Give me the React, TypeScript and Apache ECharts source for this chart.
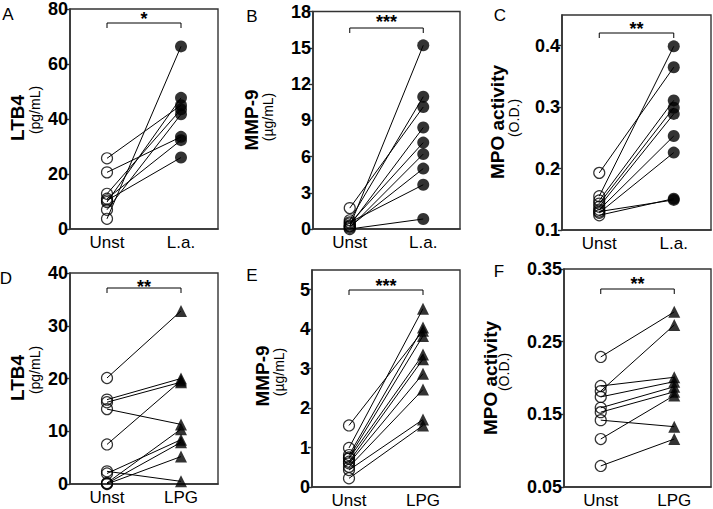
import React, { useEffect, useRef } from "react";
import * as echarts from "echarts";

// ---------- data ----------
const catsTop = ["Unst", "L.a."];
const catsBottom = ["Unst", "LPG"];

// Panel A: LTB4 (pg/mL), Unst vs L.a.
const unstA = [25.7, 20.6, 12.8, 10.4, 9.8, 7.0, 3.7, 11.0];
const laA = [45.0, 33.5, 43.5, 26.0, 47.7, 41.7, 66.4, 32.3];
// Panel B: MMP-9 (ug/mL)
const unstB = [1.73, 0.72, 0.22, 0.0, 0.3, 0.45, 0.1, 0.2, 0.55];
const laB = [10.1, 10.95, 15.2, 0.83, 8.4, 7.15, 6.2, 5.0, 3.66];
// Panel C: MPO activity (O.D.)
const unstC = [0.193, 0.155, 0.148, 0.143, 0.138, 0.133, 0.128, 0.124, 0.13];
const laC = [0.365, 0.399, 0.311, 0.299, 0.289, 0.253, 0.226, 0.151, 0.149];
// Panel D: LTB4, Unst vs LPG
const unstD = [20.1, 16.0, 15.5, 14.2, 7.5, 2.4, 2.0, 0.2, 0.0, 0.1];
const lpgD = [32.8, 20.0, 19.3, 11.3, 19.6, 0.5, 8.4, 10.4, 5.2, 7.9];
// Panel E: MMP-9, Unst vs LPG
const unstE = [1.56, 0.99, 0.81, 0.75, 0.72, 0.64, 0.6, 0.51, 0.43, 0.22];
const lpgE = [3.96, 4.52, 4.04, 3.83, 3.36, 3.24, 2.87, 2.47, 1.71, 1.56];
// Panel F: MPO activity, Unst vs LPG
const unstF = [0.229, 0.189, 0.182, 0.174, 0.159, 0.153, 0.142, 0.116, 0.079];
const lpgF = [0.291, 0.201, 0.273, 0.195, 0.188, 0.181, 0.133, 0.176, 0.116];

// axis ranges: [min, max, interval]
const axisA = [0, 80, 20];
const axisB = [0, 18, 3];
const axisC = [0.1, 0.45, 0.1];
const axisD = [0, 40, 10];
const axisE = [0, 5.5, 1];
const axisF = [0.05, 0.35, 0.1];

const FONT = "Liberation Sans, Arial, Helvetica, sans-serif";

const panels = [
  { letter: "A", title: "LTB4", unit: "(pg/mL)", cats: catsTop, unst: unstA, treat: laA, sym: "circle", axis: axisA, dec: 0, stars: "*", showMax: true,
    grid: { left: 70, top: 7, width: 148, height: 222 }, titlePos: [17, 118], unitPos: [35, 110], letterPos: [8, 14], bracketY: 23, starY: 15 },
  { letter: "B", title: "MMP-9", unit: "(\u00b5g/mL)", cats: catsTop, unst: unstB, treat: laB, sym: "circle", axis: axisB, dec: 0, stars: "***", showMax: true,
    grid: { left: 313, top: 11.5, width: 147, height: 217.5 }, titlePos: [251, 120], unitPos: [268, 117], letterPos: [252, 16], bracketY: 28, starY: 18 },
  { letter: "C", title: "MPO activity", unit: "(O.D.)", cats: catsTop, unst: unstC, treat: laC, sym: "circle", axis: axisC, dec: 1, stars: "**", showMax: false,
    grid: { left: 562, top: 15, width: 149, height: 215 }, titlePos: [497, 122], unitPos: [514, 118], letterPos: [500, 15], bracketY: 33, starY: 25 },
  { letter: "D", title: "LTB4", unit: "(pg/mL)", cats: catsBottom, unst: unstD, treat: lpgD, sym: "triangle", axis: axisD, dec: 0, stars: "**", showMax: true,
    grid: { left: 70, top: 273, width: 148, height: 211 }, titlePos: [17, 378], unitPos: [35, 370], letterPos: [6, 278], bracketY: 288, starY: 283 },
  { letter: "E", title: "MMP-9", unit: "(\u00b5g/mL)", cats: catsBottom, unst: unstE, treat: lpgE, sym: "triangle", axis: axisE, dec: 0, stars: "***", showMax: false,
    grid: { left: 312, top: 270, width: 148, height: 219 }, titlePos: [262, 376], unitPos: [279, 372], letterPos: [252, 275], bracketY: 290, starY: 282 },
  { letter: "F", title: "MPO activity", unit: "(O.D.)", cats: catsBottom, unst: unstF, treat: lpgF, sym: "triangle", axis: axisF, dec: 2, stars: "**", showMax: true,
    grid: { left: 564, top: 269, width: 147, height: 220 }, titlePos: [490, 378], unitPos: [504, 372], letterPos: [499, 271], bracketY: 289, starY: 280 },
];

export default function App() {
  const ref = useRef<HTMLDivElement>(null);
  useEffect(() => {
    if (!ref.current) return;
    const chart = echarts.init(ref.current, undefined, { renderer: "svg" });
    const grids: any[] = [];
    const xAxes: any[] = [];
    const yAxes: any[] = [];
    const series: any[] = [];
    panels.forEach((p, i) => {
      grids.push({ ...p.grid, show: true, borderColor: "#333", borderWidth: 1.4, backgroundColor: "transparent", containLabel: false });
      xAxes.push({
        type: "category", gridIndex: i, data: p.cats, boundaryGap: true,
        axisLine: { show: true, lineStyle: { color: "#333", width: 1.6 } },
        axisTick: { show: false },
        axisLabel: { color: "#000", fontSize: 17, fontFamily: FONT, margin: 5 },
        splitLine: { show: false },
      });
      yAxes.push({
        type: "value", gridIndex: i, min: p.axis[0], max: p.axis[1], interval: p.axis[2],
        axisLine: { show: true, lineStyle: { color: "#333", width: 1.6 } },
        axisTick: { show: true, length: 4, lineStyle: { color: "#333", width: 1.4 } },
        axisLabel: {
          color: "#000", fontSize: 18, fontWeight: "bold", fontFamily: FONT, margin: 2,
          showMaxLabel: p.showMax,
          formatter: (v: number) => v.toFixed(p.dec),
        },
        splitLine: { show: false },
      });
      p.unst.forEach((u, k) => {
        series.push({
          type: "line", xAxisIndex: i, yAxisIndex: i, data: [u, p.treat[k]],
          symbol: "none", lineStyle: { color: "#000", width: 1 }, silent: true, z: 2,
        });
      });
      series.push({
        type: "scatter", xAxisIndex: i, yAxisIndex: i, data: p.unst.map((v) => [0, v]),
        symbol: "circle", symbolSize: 11,
        itemStyle: { color: "rgba(0,0,0,0)", borderColor: "#000", borderWidth: 1.2 }, z: 3,
      });
      series.push({
        type: "scatter", xAxisIndex: i, yAxisIndex: i, data: p.treat.map((v) => [1, v]),
        symbol: p.sym, symbolSize: p.sym === "triangle" ? 12 : 12,
        itemStyle: { color: "#000" }, z: 3,
      });
    });
    chart.setOption({
      animation: false,
      backgroundColor: "#fff",
      grid: grids, xAxis: xAxes, yAxis: yAxes, series,
    });
    const graphics: any[] = [];
    panels.forEach((p, i) => {
      const x0 = chart.convertToPixel({ xAxisIndex: i } as any, 0 as any) as any as number;
      const x1 = chart.convertToPixel({ xAxisIndex: i } as any, 1 as any) as any as number;
      graphics.push({
        type: "polyline", silent: true,
        shape: { points: [[x0, p.bracketY + 5], [x0, p.bracketY], [x1, p.bracketY], [x1, p.bracketY + 5]] },
        style: { stroke: "#000", lineWidth: 1, fill: "none" },
      });
      graphics.push({
        type: "text", x: (x0 + x1) / 2, y: p.starY + 4,
        style: { text: p.stars, fontSize: 18, fontWeight: "bold", fontFamily: FONT, fill: "#000", align: "center", verticalAlign: "middle" },
      });
      graphics.push({
        type: "text", x: p.letterPos[0], y: p.letterPos[1],
        style: { text: p.letter, fontSize: 17, fontFamily: FONT, fill: "#000", align: "center", verticalAlign: "middle" },
      });
      graphics.push({
        type: "text", x: p.titlePos[0], y: p.titlePos[1], rotation: Math.PI / 2,
        style: { text: p.title, fontSize: 19, fontWeight: "bold", fontFamily: FONT, fill: "#000", align: "center", verticalAlign: "middle" },
      });
      graphics.push({
        type: "text", x: p.unitPos[0], y: p.unitPos[1], rotation: Math.PI / 2,
        style: { text: p.unit, fontSize: 14, fontFamily: FONT, fill: "#000", align: "center", verticalAlign: "middle" },
      });
    });
    chart.setOption({ graphic: graphics });
    return () => chart.dispose();
  }, []);
  return <div ref={ref} style={{ position: "fixed", left: 0, top: 0, width: 713, height: 509 }} />;
}
